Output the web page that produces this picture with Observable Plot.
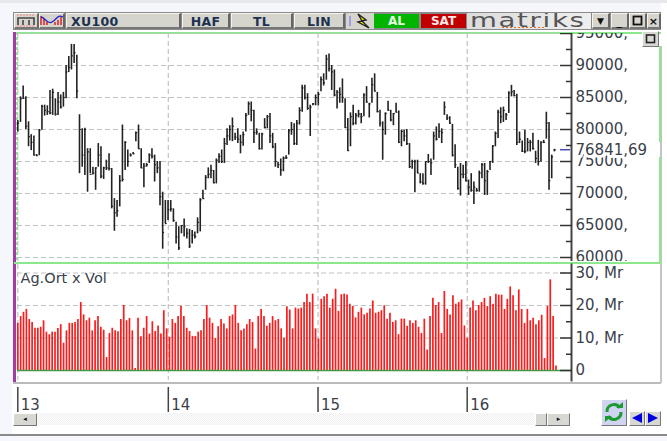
<!DOCTYPE html>
<html><head><meta charset="utf-8">
<script src="https://cdn.jsdelivr.net/npm/d3@7"></script>
<script src="https://cdn.jsdelivr.net/npm/@observablehq/plot@0.6"></script>
<style>
html,body{margin:0;padding:0;background:#f5f7fc;width:667px;height:441px;overflow:hidden;font-family:"DejaVu Sans",sans-serif}
.a{position:absolute;box-sizing:border-box}
.btn{background:#d6d5cd;border-top:1px solid #f4f4f0;border-left:1px solid #f4f4f0;border-right:2px solid #666;border-bottom:2px solid #777;font-weight:bold;font-size:12.5px;color:#1c3050;text-align:center;line-height:15px;letter-spacing:.3px}
.sb{background:#d8d8d2;border-top:1px solid #fff;border-left:1px solid #fff;border-right:1px solid #777;border-bottom:1px solid #777}
svg{display:block}
</style></head><body>
<div class="a" style="left:0;top:0;width:667px;height:3px;background:#e8e8ec"></div>
<div class="a" style="left:13px;top:30px;width:648px;height:352px;background:#fff"></div>
<div class="a" style="left:661px;top:3px;width:6px;height:432px;background:#fff"></div>
<div class="a" style="left:12px;top:382px;width:649px;height:53px;background:#fff"></div>
<div class="a" style="left:13px;top:382px;width:648px;height:2px;background:#bbb"></div>
<div class="a" style="left:660px;top:46px;width:2px;height:337px;background:#c4c4c4"></div>
<div class="a" style="left:0;top:434px;width:667px;height:2px;background:#8a8a8a"></div>
<div class="a" style="left:13px;top:12px;width:648px;height:18px;background:#8a8a8a"></div>
<div class="a btn" style="left:14px;top:13px;width:25px;height:16px"><svg width="22" height="13"><path d="M3 11V4H19V11M8 11V6M14 11V6" fill="none" stroke="#444" stroke-width="1.6"/><path d="M2 1H20M2 12H20" stroke="#e88" stroke-dasharray="2 1"/></svg></div>
<div class="a btn" style="left:39px;top:13px;width:26px;height:16px"><svg width="24" height="13"><path d="M1 2V11M4 5V11M7 8V11M15 8V11M18 6V11M21 3V11" stroke="#d22" stroke-width="1.5"/><path d="M1 3C5 3 7 11 12 8S18 0 23 3" fill="none" stroke="#22c" stroke-width="1.3"/></svg></div>
<div class="a btn" style="left:66px;top:13px;width:115px;height:16px;text-align:left;padding-left:4px">XU100</div>
<div class="a btn" style="left:182px;top:13px;width:48px;height:16px">HAF</div>
<div class="a btn" style="left:231px;top:13px;width:62px;height:16px">TL</div>
<div class="a btn" style="left:294px;top:13px;width:51px;height:16px">LIN</div>
<div class="a" style="left:346px;top:13px;width:28px;height:16px;background:#d6d5cd"><svg width="28" height="16"><path d="M4 3V13" stroke="#66f" stroke-width="1"/><path d="M12 1L20 7L16 8L23 15L12 9L16 8Z" fill="#ee0" stroke="#222" stroke-width="1.4"/></svg></div>
<div class="a" style="left:374px;top:14px;width:45px;height:14px;background:#00b400;color:#e8ffe0;font-weight:bold;font-size:12px;text-align:center;line-height:14px">AL</div>
<div class="a" style="left:421px;top:14px;width:45px;height:14px;background:#c00000;color:#ffe8e8;font-weight:bold;font-size:12px;text-align:center;line-height:14px">SAT</div>
<div class="a" style="left:467px;top:13px;width:124px;height:16px;background:linear-gradient(90deg,#dcdcdc,#eee);overflow:hidden;color:#555;font-size:20px;line-height:15px;padding-left:3px"><span style="display:inline-block;transform:scale(1.38,1);transform-origin:0 0;letter-spacing:1.2px">matriks</span></div>
<div class="a" style="left:502px;top:27px;width:44px;height:1px;background:repeating-linear-gradient(90deg,#e87020 0 2px,transparent 2px 4px)"></div>
<div class="a btn" style="left:592px;top:13px;width:18px;height:16px;font-size:9px;color:#111">▼</div>
<div class="a btn" style="left:611px;top:13px;width:18px;height:16px;font-size:11px;color:#111">_</div>
<div class="a btn" style="left:629px;top:13px;width:18px;height:16px"><svg width="15" height="13"><rect x="3.5" y="2.5" width="8" height="8" fill="none" stroke="#111" stroke-width="1.8"/></svg></div>
<div class="a btn" style="left:647px;top:13px;width:14px;height:16px;font-size:11px;color:#111">×</div>

<div class="a" style="left:13px;top:32px;width:3px;height:350px;background:#a03ca8"></div>
<div class="a" style="left:16px;top:32px;width:645px;height:2px;background:#8ce88c"></div>
<div class="a" style="left:16px;top:32px;width:2px;height:232px;background:repeating-linear-gradient(#8ce88c 0 3px,#fff 3px 5px)"></div>
<div class="a" style="left:14px;top:262px;width:647px;height:2px;background:#8ce88c"></div>
<div class="a" style="left:659px;top:46px;width:2px;height:96px;background:#8ce88c"></div>
<div class="a" style="left:659px;top:157px;width:2px;height:106px;background:#8ce88c"></div>

<div id="price" class="a" style="left:0;top:33px;width:667px;height:228px;overflow:hidden"></div>
<div id="vol" class="a" style="left:0;top:0;width:667px;height:441px"></div>

<div class="a sb" style="left:642px;top:31px;width:17px;height:16px"><svg width="15" height="14"><rect x="3.5" y="3" width="8" height="7.5" fill="none" stroke="#222" stroke-width="1.6"/></svg></div>
<div class="a" style="left:36px;top:413px;width:500px;height:12px;background:repeating-conic-gradient(#eee 0 25%,#fff 0 50%) 0 0/2px 2px"></div>
<div class="a sb" style="left:13px;top:413px;width:24px;height:13px;font-size:7px;line-height:11px;text-align:center;color:#111">◂</div>
<div class="a sb" style="left:535px;top:413px;width:12px;height:13px"></div>
<div class="a sb" style="left:547px;top:413px;width:23px;height:13px;font-size:7px;line-height:11px;text-align:center;color:#111">▸</div>
<div class="a sb" style="left:601px;top:399px;width:26px;height:27px;background:#d0d4f0"><svg width="24" height="24"><path d="M5 12A7 7 0 0 1 18 8M19 12A7 7 0 0 1 6 16" fill="none" stroke="#1a9a30" stroke-width="3"/><path d="M14 8H21V2ZM10 16H3V22Z" fill="#1a9a30"/></svg></div>
<div class="a sb" style="left:629px;top:411px;width:16px;height:15px"><svg width="14" height="13"><path d="M12 1V11L2 6Z" fill="#0000e0"/></svg></div>
<div class="a sb" style="left:645px;top:411px;width:16px;height:15px"><svg width="14" height="13"><path d="M2 1V11L12 6Z" fill="#0000e0"/></svg></div>

<script>
// Values in thousands of index points, read bar by bar
const highs = [81.4,85.1,86.8,85.1,81.2,79.2,79.0,76.1,80.0,83.8,83.8,83.7,86.1,86.3,84.8,85.8,85.4,85.8,90.0,91.4,93.3,93.3,91.6,82.3,80.1,80.2,77.0,77.0,74.1,74.0,77.8,77.3,74.1,75.2,76.2,73.9,69.2,68.9,72.8,80.7,78.1,76.8,76.2,76.4,79.6,80.7,77.0,74.7,74.7,76.2,77.0,76.0,75.0,75.0,70.2,68.9,68.9,
68.9,67.6,65.5,64.8,65.0,66.0,64.5,64.4,64.2,64.0,66.2,69.2,70.5,72.8,74.0,74.4,73.6,75.4,76.2,76.8,78.6,80.1,80.6,81.8,79.4,80.1,79.1,79.6,82.5,84.3,84.3,83.0,80.1,79.4,79.4,81.7,82.2,82.5,79.4,77.8,74.9,75.4,75.7,75.9,80.0,81.1,80.9,81.4,83.4,86.9,86.9,85.6,83.8,84.05,85.4,85.8,88.2,
88.7,91.6,91.8,90.0,89.3,86.1,86.5,87.9,84.8,81.7,82.6,83.8,82.5,83.0,82.5,85.6,86.7,84.1,88.0,88.7,85.8,83.0,81.2,82.6,84.4,83.0,82.5,84.1,82.9,79.9,79.9,80.0,77.8,75.2,75.2,75.2,73.1,73.1,75.0,76.1,75.4,79.6,80.4,80.9,80.1,84.3,82.3,82.0,80.8,77.6,74.1,74.7,74.4,75.0,72.1,
73.1,71.8,70.8,73.5,74.7,74.7,73.6,75.0,77.5,79.6,83.0,83.4,83.5,82.5,85.9,86.9,86.1,85.5,79.6,78.2,79.9,78.6,78.3,79.4,76.6,78.3,78.1,78.3,82.7,81.1,76.0,76.9];
const lows = [79.6,81.1,84.7,80.0,77.3,76.7,75.9,75.8,75.9,79.9,82.1,82.2,82.3,82.2,82.1,82.2,83.2,83.5,84.8,88.9,89.3,90.3,84.8,73.1,74.1,72.8,70.2,73.1,72.9,70.5,74.1,72.3,72.2,73.6,73.5,67.6,64.1,66.3,67.9,71.8,73.6,74.1,75.7,76.1,78.1,76.9,73.9,70.9,74.1,74.7,75.4,71.8,73.1,68.1,61.3,65.3,65.8,
67.1,65.5,62.1,61.1,63.7,63.2,62.9,61.4,62.1,62.9,63.7,64.0,69.1,70.5,72.3,72.3,71.5,71.5,74.7,74.7,74.7,77.5,78.2,78.1,78.3,77.8,76.2,77.4,79.6,82.2,81.2,77.8,79.1,76.8,76.8,80.1,80.1,77.8,77.0,74.1,73.9,72.7,73.4,75.3,76.0,79.1,77.5,77.5,80.7,82.7,84.6,83.0,78.9,83.7,83.7,83.7,85.9,
86.8,87.7,89.0,86.1,85.1,83.2,84.1,84.1,80.2,76.6,77.3,80.6,80.7,81.8,80.9,82.0,84.1,81.8,84.1,85.9,82.6,80.4,75.2,79.1,82.9,81.2,80.6,82.6,77.8,77.3,78.1,77.5,73.9,73.8,70.1,73.1,71.5,71.3,71.3,74.7,72.8,75.2,78.2,78.6,77.8,82.2,81.4,80.8,75.7,73.9,70.5,69.6,72.3,71.8,69.7,
70.2,68.3,70.2,70.2,72.3,69.7,69.7,73.6,74.7,77.3,78.6,80.9,81.1,81.4,82.5,85.1,85.1,77.5,77.8,76.4,76.2,76.5,76.5,76.8,74.7,74.3,74.9,77.8,78.5,70.5,72.3,76.5];
const closes = [81.0,84.8,84.9,80.5,78.9,78.0,76.0,75.9,79.9,83.6,83.0,82.8,82.6,85.8,82.4,84.3,83.5,85.0,89.0,89.7,91.5,92.0,86.0,80.0,76.0,80.0,76.5,73.0,73.2,74.0,76.0,72.7,74.0,74.0,73.9,68.0,67.0,67.3,72.0,72.2,78.0,75.0,76.0,76.2,79.5,77.0,74.0,74.3,74.5,76.0,75.8,74.5,74.0,69.5,63.9,65.3,67.5,
67.6,65.8,63.2,61.5,65.0,64.8,63.8,61.8,63.5,63.3,65.5,69.0,69.2,72.5,73.0,73.6,71.7,75.2,75.8,75.0,77.8,79.0,80.0,80.5,78.8,78.5,78.0,79.2,82.2,84.0,83.0,79.5,79.6,77.0,79.3,80.3,82.0,79.0,77.3,75.0,74.5,73.7,75.5,75.6,79.8,80.0,77.8,81.0,83.0,86.5,85.0,83.3,83.5,84.0,85.0,85.5,87.8,
87.3,91.0,89.5,89.0,85.4,85.8,85.5,85.0,80.3,76.7,82.0,81.0,82.2,82.4,82.0,85.4,84.3,84.0,87.0,86.0,82.8,81.0,80.0,82.5,83.0,81.5,82.5,82.7,78.0,79.7,79.0,77.8,74.2,75.0,75.0,73.2,71.8,71.6,75.0,75.0,74.8,79.0,78.5,79.7,79.5,83.5,81.8,81.0,76.0,74.5,70.8,73.0,73.0,72.0,71.0,
70.5,71.0,70.5,73.2,74.5,72.0,73.4,75.0,77.4,79.4,82.7,82.0,83.0,82.3,85.7,85.9,85.3,78.0,78.5,76.6,76.6,78.0,78.0,77.0,75.5,75.0,78.0,78.0,81.0,72.0,75.7,76.84169];
// Volume in billions ("Mr")
const volumes = [14.5,16.6,17.9,18.8,15.7,14.8,13,13,13.3,15.3,11.8,11,11.8,11.8,12.9,14.1,8.4,12.2,14.5,14.5,14.8,15.7,20.9,17.1,15.3,16.1,12.2,15.3,16.6,13.3,12.4,4,11.4,13,12.2,11.9,15.7,20,15.3,16,12.2,0.6,16.1,10.4,13,16.6,11.2,15,12,13.7,11.2,18.4,12.8,10.2,15.7,14.5,16.6,19.8,16.6,13,12,10.5,10.5,11.8,12.2,15.7,20,16.1,14.5,9.9,13.5,15.7,14.3,12.8,16.6,17.1,20,14.5,12.2,12.8,14.1,15.7,14.8,6.6,16.6,18.8,16.6,13.6,14.5,16.6,15.3,15.7,12.8,9.9,19.6,18.6,12.8,19.2,18.9,19.2,20.9,23.5,20.9,23.5,12.8,9.7,21.9,22.7,23.5,19.2,
21.9,25,18.2,23.3,23.5,23.2,20.4,19.7,16.2,17.9,19.2,17.1,17.6,18.9,21.4,17.6,17.9,18.4,19.9,15.8,17.6,14.8,15.3,11,15.8,15.8,13.6,15.3,14.5,15.3,13.3,11.4,15.8,6.3,16.6,22.2,20,20.9,11.4,24.3,18.8,17.1,23,20.4,20.9,21.7,13.7,9.9,19.2,21.4,18.4,20,20.9,22.2,19.7,22.7,20.4,23.5,23.2,23.2,18.8,21.9,25.7,23,18.4,24.8,18.8,14.5,18.8,15.3,16.1,14.1,15.3,17,3.7,19.7,27.9,16.6,1.4];
const yearTicks = [0,56.1,111.9,167.5];
const yearLabels = ["13","14","15","16"];
const lastPrice = 76841.69;
const priceTicks = [60000,65000,70000,75000,80000,85000,90000,95000];
const priceMinor = [62500,67500,72500,77500,82500,87500,92500];
const volTicks = [0,10,20,30];
const volMinor = [5,15,25];

const bars = highs.map((h,i)=>({i,h:h*1000,l:lows[i]*1000,c:closes[i]*1000}));
const vols = volumes.map((v,i)=>({i:i*200.6/(volumes.length-1),v}));
const xScale = {domain:[0,200.6],range:[17.3,555.5]};
const gridStyle = {stroke:"#c2c2c2",strokeOpacity:1,strokeDasharray:"5 3",strokeWidth:1.2};
const txt = "#3a3f4a";
const font = {fontFamily:"'DejaVu Sans',sans-serif",fontSize:"15px",background:"transparent",overflow:"visible"};

const price = Plot.plot({
  width:667,height:441,marginLeft:17,marginRight:96,marginTop:33,marginBottom:178,
  style:font,
  x:{...xScale,axis:null},
  y:{domain:[60000,90000],range:[257,65],axis:null},
  marks:[
    Plot.gridX(yearTicks,gridStyle),
    Plot.gridY(priceTicks,gridStyle),
    Plot.ruleX(bars,{x:"i",y1:"l",y2:"h",stroke:"#222",strokeWidth:1.6}),
    Plot.ruleY(bars,{y:"c",x1:"i",x2:d=>d.i+0.7,stroke:"#222",strokeWidth:1.2}),
    Plot.frame({anchor:"right",stroke:"#444",strokeWidth:2}),
    Plot.axisY(priceTicks,{anchor:"right",tickSize:12,dx:-12,fill:"none",stroke:"#333",strokeWidth:1.5,label:null}),
    Plot.axisY(priceMinor,{anchor:"right",tickSize:6,dx:-6,fill:"none",stroke:"#333",strokeWidth:1.5,label:null}),
    Plot.axisY(priceTicks,{anchor:"right",tickSize:0,tickPadding:4,fill:txt,fontSize:15,label:null,tickFormat:d=>d+","}),
    Plot.text([lastPrice],{y:d=>d,frameAnchor:"right",dx:4,textAnchor:"start",text:d=>String(d).replace(".",","),fill:txt,stroke:"white",strokeWidth:6,fontSize:15}),
    Plot.axisY([lastPrice],{anchor:"right",tickSize:10,dx:-12,fill:"none",stroke:"#4a4ab0",strokeWidth:1.5,label:null})
  ]
});
price.style.marginTop="-33px";
document.getElementById("price").append(price);

const vol = Plot.plot({
  width:667,height:441,marginLeft:17,marginRight:96,marginTop:264,marginBottom:61,
  style:font,
  x:{...xScale,axis:null},
  y:{domain:[0,30],range:[370,272.5],axis:null},
  marks:[
    Plot.gridX(yearTicks,gridStyle),
    Plot.gridY(volTicks,gridStyle),
    Plot.ruleX(vols,{x:"i",y1:0,y2:"v",stroke:"#fa1c1c",strokeWidth:1.7}),
    Plot.ruleY([0],{stroke:"#3f9a45",strokeWidth:1.6}),
    Plot.frame({anchor:"right",stroke:"#444",strokeWidth:2}),
    Plot.axisY(volTicks,{anchor:"right",tickSize:12,dx:-12,fill:"none",stroke:"#333",strokeWidth:1.5,label:null}),
    Plot.axisY(volMinor,{anchor:"right",tickSize:6,dx:-6,fill:"none",stroke:"#333",strokeWidth:1.5,label:null}),
    Plot.axisY(volTicks,{anchor:"right",tickSize:0,tickPadding:4,fill:txt,fontSize:15,label:null,tickFormat:d=>d?d+", Mr":"0"}),
    Plot.axisX(yearTicks,{anchor:"bottom",tickSize:25,dy:7,fill:"none",stroke:"#444",strokeWidth:1.5,label:null}),
    Plot.axisX(yearTicks,{anchor:"bottom",tickSize:0,tickPadding:0,dy:19,dx:3,textAnchor:"start",fill:txt,fontSize:15,label:null,tickFormat:(d,i)=>yearLabels[i]}),
    Plot.text(["Ag.Ort x Vol"],{frameAnchor:"top-left",dx:3,dy:8,fontSize:14.5,fill:txt})
  ]
});
document.getElementById("vol").append(vol);
</script>
</body></html>
